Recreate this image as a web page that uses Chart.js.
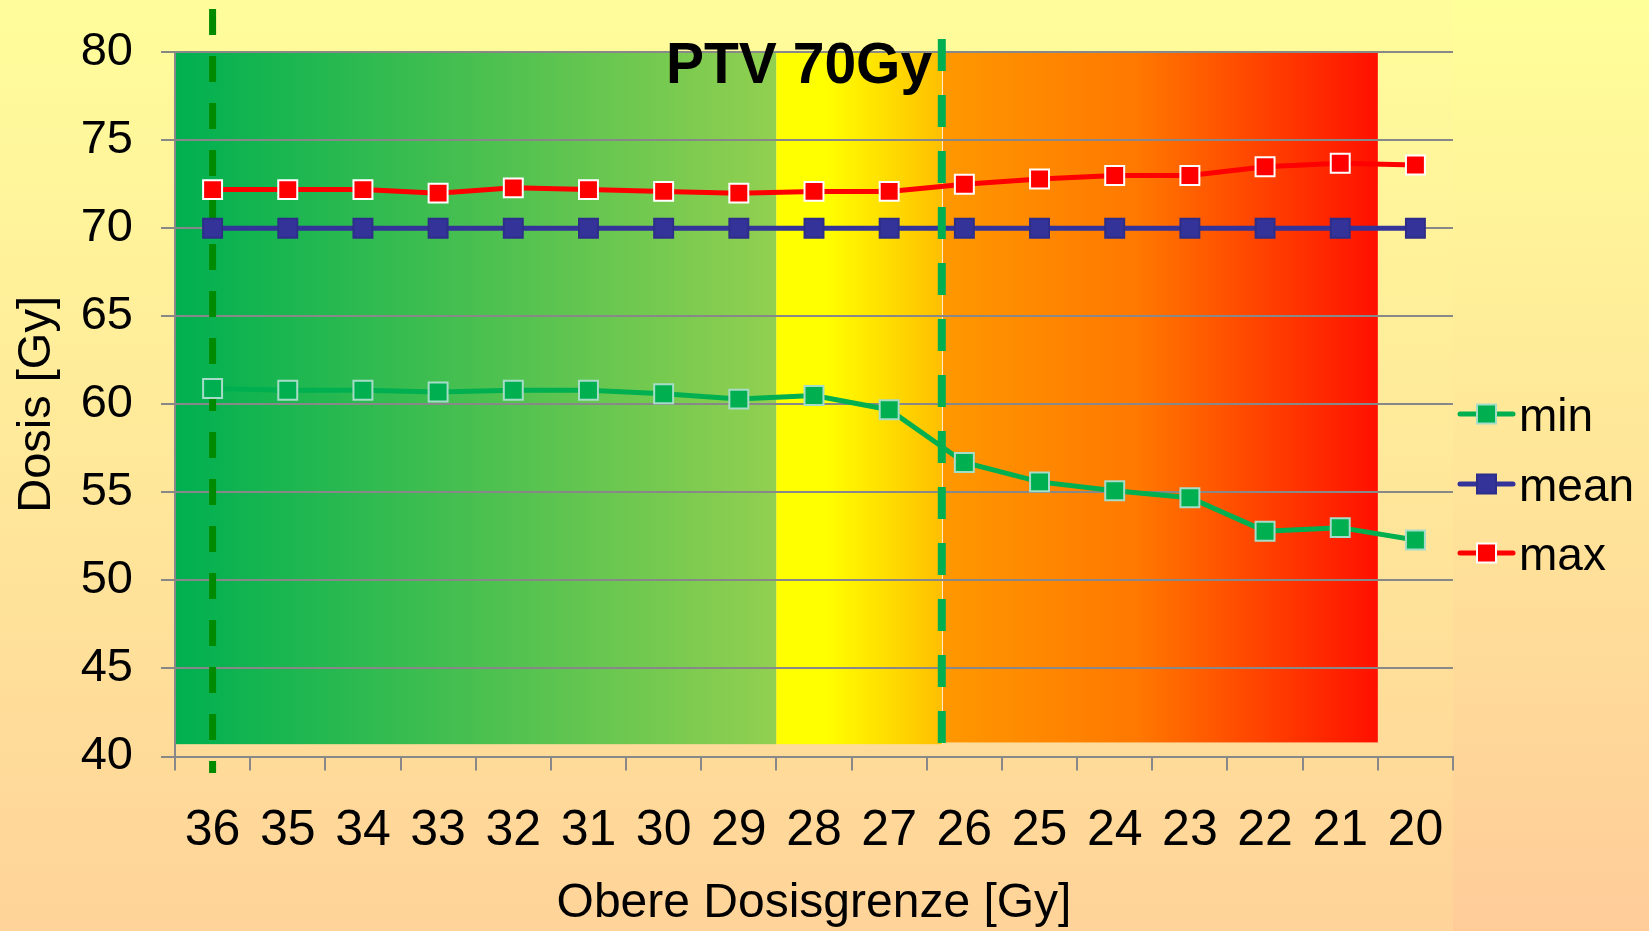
<!DOCTYPE html>
<html>
<head>
<meta charset="utf-8">
<script src="https://cdn.jsdelivr.net/npm/chart.js@4.4.0/dist/chart.umd.min.js"></script>
<style>
html, body { margin: 0; padding: 0; background: #ffe9a0; }
canvas { display: block; }
</style>
</head>
<body>
<canvas id="dose-chart" width="1649" height="931"></canvas>
<script>
// Data
const categories = ['36', '35', '34', '33', '32', '31', '30', '29', '28', '27', '26', '25', '24', '23', '22', '21', '20'];
const minDose = [60.9, 60.8, 60.8, 60.7, 60.8, 60.8, 60.6, 60.3, 60.5, 59.7, 56.7, 55.6, 55.1, 54.7, 52.8, 53.0, 52.3];
const meanDose = [70, 70, 70, 70, 70, 70, 70, 70, 70, 70, 70, 70, 70, 70, 70, 70, 70];
const maxDose = [72.2, 72.2, 72.2, 72.0, 72.3, 72.2, 72.1, 72.0, 72.1, 72.1, 72.5, 72.8, 73.0, 73.0, 73.5, 73.7, 73.6];
const yMin = 40;
const yMax = 80;
const yStep = 5;

// Coloured zones behind the lines (category index from / to, lowest dose)
const zoneFrom = [-0.5, 7.5, 9.7];
const zoneTo = [7.5, 9.7, 15.5];
const zoneLow = [40.7, 40.7, 40.8];
// Dashed marker lines (category index)
const markerAt = [0, 9.7];

const FONT = "'Liberation Sans', Arial, sans-serif";
Chart.defaults.font.family = FONT;
Chart.defaults.color = '#000';

const zoneStops = [
    [[0, '#00b050'], [1, '#92d050']],
    [[0, '#ffff00'], [0.3, '#ffff00'], [1, '#ffbf00']],
    [[0, '#ff9800'], [0.45, '#ff7800'], [1, '#ff1000']]
];

const dashedLine = (ctx, x, top, bottom, color, width, dash) => {
    ctx.save();
    ctx.strokeStyle = color;
    ctx.lineWidth = width;
    ctx.setLineDash(dash);
    ctx.beginPath();
    ctx.moveTo(x, top);
    ctx.lineTo(x, bottom);
    ctx.stroke();
    ctx.restore();
};

const decorations = {
    id: 'decorations',
    beforeDraw(chart) {
        const {ctx, width, height} = chart;
        const x = chart.scales.x, y = chart.scales.y;

        // slide background
        let g = ctx.createLinearGradient(0, 0, 0, height);
        g.addColorStop(0, '#fffd9b');
        g.addColorStop(1, '#ffd399');
        ctx.fillStyle = g;
        ctx.fillRect(0, 0, width, height);
        g = ctx.createLinearGradient(0, 0, 0, height);
        g.addColorStop(0, '#ffff99');
        g.addColorStop(1, '#ffcc99');
        ctx.fillStyle = g;
        ctx.fillRect(1453, 0, width - 1453, height);

        // zones
        zoneFrom.forEach((from, i) => {
            const x0 = x.getPixelForValue(from);
            const x1 = x.getPixelForValue(zoneTo[i]);
            const y0 = y.getPixelForValue(yMax);
            const y1 = y.getPixelForValue(zoneLow[i]);
            const zg = ctx.createLinearGradient(x0, 0, x1, 0);
            zoneStops[i].forEach(s => zg.addColorStop(s[0], s[1]));
            ctx.fillStyle = zg;
            ctx.fillRect(x0, y0, x1 - x0, y1 - y0);
        });
        const xs = x.getPixelForValue(zoneTo[1]);
        ctx.fillStyle = 'rgba(255,255,255,0.8)';
        ctx.fillRect(Math.round(xs), y.getPixelForValue(yMax), 1, y.getPixelForValue(zoneLow[1]) - y.getPixelForValue(yMax));
    },
    beforeDatasetsDraw(chart) {
        const px = chart.scales.x.getPixelForValue(markerAt[0]);
        dashedLine(chart.ctx, px, 9, 773, '#008a00', 7, [26, 21]);
    },
    afterDatasetsDraw(chart) {
        const {ctx, chartArea} = chart;
        const px = chart.scales.x.getPixelForValue(markerAt[1]);
        dashedLine(chart.ctx, px, 39, 743, '#00b050', 8, [32, 24]);

        // title
        ctx.save();
        ctx.fillStyle = '#000';
        ctx.font = `bold 57px ${FONT}`;
        ctx.textAlign = 'left';
        ctx.textBaseline = 'alphabetic';
        ctx.fillText('PTV 70Gy', 666, 83);

        // x axis title
        ctx.font = `48px ${FONT}`;
        ctx.textAlign = 'center';
        ctx.fillText('Obere Dosisgrenze [Gy]', (chartArea.left + chartArea.right) / 2, 917);

        // legend
        const rows = [414, 484, 553];
        chart.data.datasets.forEach((ds, i) => {
            const ly = rows[i];
            ctx.strokeStyle = ds.borderColor;
            ctx.lineWidth = 5;
            ctx.lineCap = 'round';
            ctx.beginPath();
            ctx.moveTo(1460, ly);
            ctx.lineTo(1513, ly);
            ctx.stroke();
            ctx.fillStyle = ds.pointBackgroundColor;
            ctx.fillRect(1477, ly - 9.5, 19, 19);
            ctx.strokeStyle = ds.pointBorderColor;
            ctx.lineWidth = 2;
            ctx.strokeRect(1477, ly - 9.5, 19, 19);
            ctx.fillStyle = '#000';
            ctx.font = `46px ${FONT}`;
            ctx.textAlign = 'left';
            ctx.fillText(ds.label, 1519, ly + 17);
        });
        ctx.restore();
    }
};

const lineSet = (label, data, color, border) => ({
    label: label,
    data: data,
    borderColor: color,
    backgroundColor: color,
    borderWidth: 5,
    pointStyle: 'rect',
    pointRadius: 13.4,
    pointHoverRadius: 13.4,
    pointBackgroundColor: color,
    pointBorderColor: border,
    pointBorderWidth: 2,
    tension: 0
});

new Chart(document.getElementById('dose-chart'), {
    type: 'line',
    data: {
        labels: categories,
        datasets: [
            lineSet('min', minDose, '#00b050', '#a6dcc8'),
            lineSet('mean', meanDose, '#333399', '#2e2e8a'),
            lineSet('max', maxDose, '#ff0000', '#ffffff')
        ]
    },
    options: {
        responsive: false,
        animation: false,
        layout: {
            padding: {top: 52.3, right: 196, bottom: 0, left: 0}
        },
        plugins: {
            legend: {display: false},
            tooltip: {enabled: false}
        },
        scales: {
            x: {
                offset: true,
                afterFit: s => { s.height = 931 - 756.5; },
                grid: {
                    offset: true,
                    drawOnChartArea: false,
                    drawTicks: true,
                    tickLength: 14,
                    color: '#888888',
                    lineWidth: 2
                },
                border: {display: true, color: '#888888', width: 2},
                ticks: {
                    font: {size: 50},
                    padding: 31,
                    maxRotation: 0,
                    autoSkip: false
                }
            },
            y: {
                min: yMin,
                max: yMax,
                afterFit: s => {
                    s.width = 175;
                    s.paddingTop = 0;
                    s.paddingBottom = 0;
                },
                grid: {
                    drawTicks: true,
                    tickLength: 14,
                    color: '#888888',
                    lineWidth: 2
                },
                border: {display: true, color: '#888888', width: 2},
                ticks: {
                    stepSize: yStep,
                    font: {size: 47},
                    padding: 28
                },
                title: {
                    display: true,
                    text: 'Dosis [Gy]',
                    font: {size: 47},
                    padding: {top: 9, bottom: 0}
                }
            }
        }
    },
    plugins: [decorations]
});
</script>
</body>
</html>
